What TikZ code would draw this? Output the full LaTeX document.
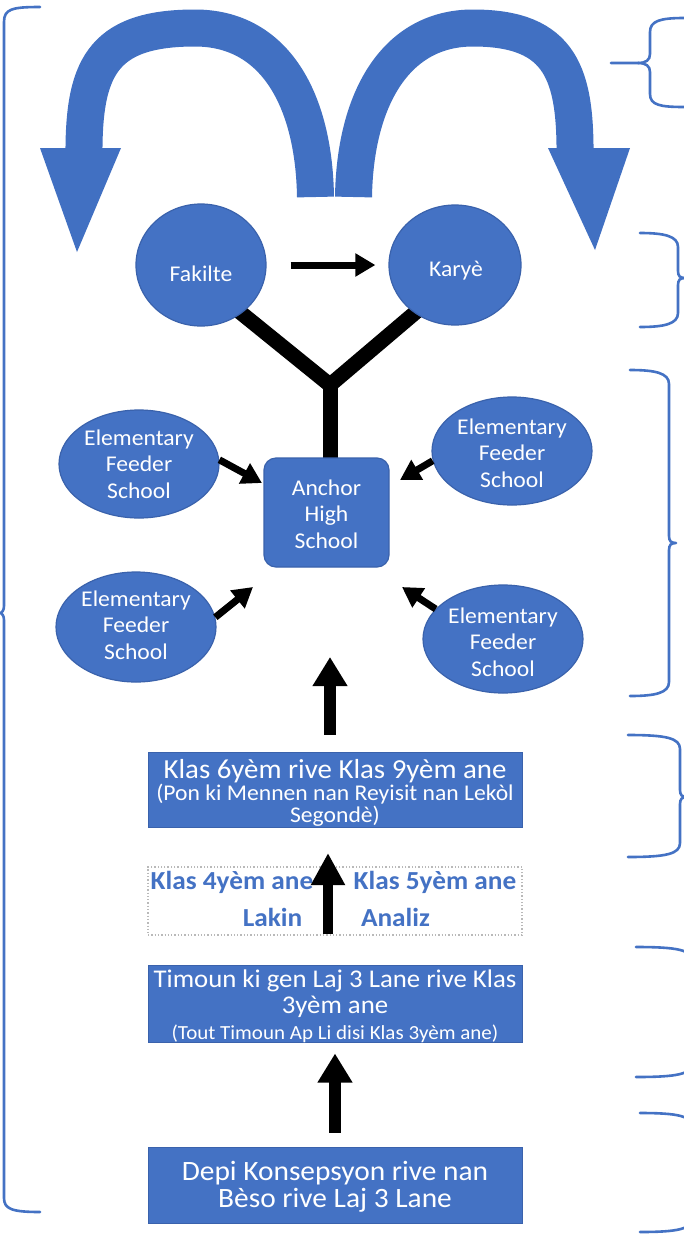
\documentclass[tikz,border=0pt]{standalone}
\usepackage{fontspec}
\setmainfont{Carlito}[FakeStretch=1.05]
\usetikzlibrary{arrows.meta,shapes.geometric,backgrounds}
\definecolor{ob}{HTML}{4472C4}
\definecolor{obd}{HTML}{3A62AC}
\definecolor{arcb}{HTML}{4170C2}
\newcommand{\tightlines}{\lineskiplimit=-20pt\relax\lineskip=0pt\relax}
\newcommand{\myrbrace}[5]{%
  \draw[mybrace] (#1,#3) .. controls ({#2-14},#3) and (#2,{#3+3}) .. (#2,{#3+14})
    -- (#2,{#4-7}) .. controls (#2,{#4-2}) and ({#2+2},#4) .. ({#2+7},#4)
    .. controls ({#2+2},#4) and (#2,{#4+2}) .. (#2,{#4+7})
    -- (#2,{#5-14}) .. controls (#2,{#5-3}) and ({#2-14},#5) .. (#1,#5);}
\begin{document}
\begin{tikzpicture}[x=1pt,y=-1pt,
  mybrace/.style={draw=ob, line width=2.6, line cap=round, line join=round},
  blob/.style={ellipse, fill=ob, draw=obd, line width=1.2, inner sep=0},
  wtext/.style={text=white, align=center, inner sep=0, font=\fontsize{22.5}{26.5}\selectfont},
  barbox/.style={rectangle, fill=ob, draw=obd, line width=1, minimum width=374, inner sep=0},
  btext/.style={text=ob, inner sep=0, font=\bfseries\fontsize{26}{26}\selectfont},
  thinarr/.style={draw=black, line width=7, -{Triangle[length=20pt,width=22pt]}},
  bigarr/.style={draw=black, line width=12, -{Triangle[length=29pt,width=33pt]}},
  yline/.style={draw=black, line width=15},
  bigarc/.style={draw=arcb, line width=37},
]
\begin{scope}[on background layer]
\fill[white] (0,0) rectangle (684,1235);
\end{scope}
\useasboundingbox (0,0) rectangle (684,1235);

% big curved arrows
\draw[bigarc] (315.5,197) .. controls (314,100) and (275,28) .. (195,28)
  .. controls (100,28) and (83,70) .. (84,160);
\fill[arcb] (40,148) -- (121,148) -- (77,252) -- cycle;
\draw[bigarc] (353.5,197) .. controls (355,100) and (395,28) .. (473,28)
  .. controls (562,28) and (576,75) .. (575,160);
\fill[arcb] (548,148) -- (630,148) -- (595,250) -- cycle;

% circles
\node[blob, minimum width=130, minimum height=122] (fak) at (201,265) {};
\node[wtext] (fakt) at (201,274) {Fakilte};
\node[blob, minimum width=132, minimum height=120] (kar) at (455,265) {};
\node[wtext] (kart) at (456,271) {Karyè};
\draw[thinarr, shorten <=24, shorten >=13] (fak) -- (kar);

% anchor high school
\node[rectangle, rounded corners=12, fill=ob, draw=obd, line width=1.2,
      minimum width=125, minimum height=109] (anc) at (326.5,512.5) {};
\node[wtext] (anct) at (326.5,514) {Anchor\\High\\School};

% Y connector
\coordinate (yj) at (330,385);
\begin{scope}[on background layer]
\draw[yline, shorten <=-10, shorten >=-10] (fak.-50) -- (yj) -- (kar.-130);
\draw[yline, shorten >=-6] (yj) -- (anc.north -| yj);
\end{scope}

% feeder schools
\node[blob, minimum width=160, minimum height=108] (tl) at (139,464) {};
\node[wtext] (tlt) at (139,464) {Elementary\\Feeder\\School};
\node[blob, minimum width=160, minimum height=108] (tr) at (512,451) {};
\node[wtext] (trt) at (512,453) {Elementary\\Feeder\\School};
\node[blob, minimum width=160, minimum height=110] (bl) at (136,627) {};
\node[wtext] (blt) at (136,625) {Elementary\\Feeder\\School};
\node[blob, minimum width=160, minimum height=108] (br) at (503,639) {};
\node[wtext] (brt) at (503,642) {Elementary\\Feeder\\School};

\coordinate (e1) at (262,483);
\coordinate (e2) at (400,480);
\coordinate (e3) at (253,587);
\coordinate (e4) at (402,587);
\draw[thinarr] (tl.3) -- (e1);
\draw[thinarr] (tr.187) -- (e2);
\draw[thinarr] (bl.7) -- (e3);
\draw[thinarr] (br.156) -- (e4);

% boxes
\node[barbox, minimum height=75] (k69) at (335,789.5) {};
\node[text=white, align=center, inner sep=0,
      font=\fontsize{22.5}{22}\selectfont\tightlines] (k69t) at (335,793)
  {{\fontsize{27.5}{22}\selectfont Klas 6yèm rive Klas 9yèm ane}\\(Pon ki Mennen nan Reyisit nan Lekòl\\Segondè)};

\node[draw=gray!55, dotted, line width=1.3, minimum width=374, minimum height=68, inner sep=0] (dbox) at (335,901) {};
\node[btext] (l4) at (232,882) {Klas 4yèm ane};
\node[btext] (l5) at (435,882) {Klas 5yèm ane};
\node[btext] (lk) at (272.5,917.5) {Lakin};
\node[btext] (la) at (395.5,917.5) {Analiz};

\node[barbox, minimum height=77] (tim) at (335,1003.5) {};
\node[text=white, align=center, inner sep=0,
      font=\fontsize{25.5}{26}\selectfont\tightlines] (timt) at (335,1006)
  {Timoun ki gen Laj 3 Lane rive Klas\\3yèm ane\\{\fontsize{20}{23}\selectfont (Tout Timoun Ap Li disi Klas 3yèm ane)}};

\node[barbox, minimum height=76] (bot) at (335,1185) {};
\node[text=white, align=center, inner sep=0,
      font=\fontsize{28}{27}\selectfont\tightlines] (bott) at (335,1187)
  {Depi Konsepsyon rive nan\\Bèso rive Laj 3 Lane};

% upward arrows
\coordinate (u1e) at (330,657);
\coordinate (u2e) at (328,853);
\draw[bigarr, shorten <=17] (k69.north -| u1e) -- (u1e);
\draw[draw=black, line width=10, -{Triangle[length=32pt,width=32pt]}, shorten <=2] (dbox.south -| u2e) -- (u2e);
\draw[bigarr, shorten <=14, shorten >=11] (bot.north) -- (tim.south);

% braces
\draw[mybrace] (40,7) .. controls (12,7) and (4,9) .. (4,22) -- (4,606)
  .. controls (4,610) and (2,613) .. (0,613) .. controls (2,613) and (4,616) .. (4,620)
  -- (4,1198) .. controls (4,1209) and (12,1212) .. (40,1212);
\draw[mybrace] (684,18) .. controls (660,18) and (650,21) .. (650,32) -- (650,54)
  .. controls (650,60) and (646,63) .. (638,63) -- (611,63);
\draw[mybrace] (638,63) .. controls (646,63) and (650,66) .. (650,72) -- (650,94)
  .. controls (650,105) and (660,107) .. (684,107);
\myrbrace{640}{678}{233}{278}{327}
\myrbrace{630}{669}{370}{543}{696}
\myrbrace{628}{680}{735}{797}{857}
\myrbrace{636}{692}{947}{1012}{1077}
\myrbrace{640}{692}{1113}{1172}{1232}
\end{tikzpicture}
\end{document}
